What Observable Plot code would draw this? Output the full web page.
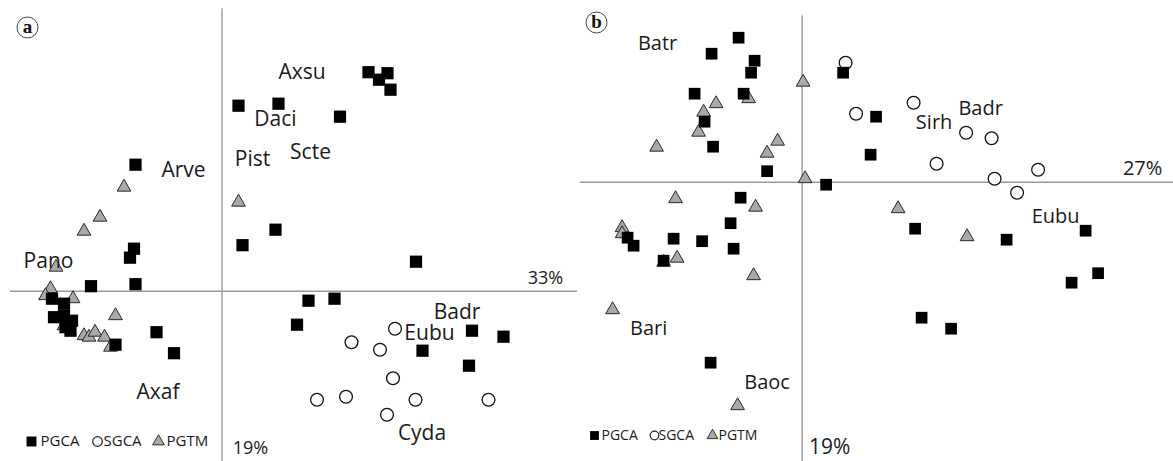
<!DOCTYPE html>
<html>
<head>
<meta charset="utf-8">
<script src="https://cdn.jsdelivr.net/npm/d3@7"></script>
<script src="https://cdn.jsdelivr.net/npm/@observablehq/plot@0.6"></script>
<style>
  body { margin: 0; background: #fff; }
  #wrap { display: flex; width: 1173px; height: 461px; overflow: hidden; }
  #wrap svg { display: block; }
</style>
</head>
<body>
<div id="wrap"></div>
<script>
// ---------- Panel (a): PCA scores [PC1, PC2] ----------
const pgcaA = [
  [2.93,4.38],[3.31,4.36],[3.14,4.23],[3.37,4.03],[0.33,3.71],[1.13,3.75],[2.36,3.49],
  [-1.73,2.53],[1.07,1.23],[0.41,0.92],[-1.76,0.85],[-1.84,0.67],[3.88,0.59],
  [-2.62,0.10],[-1.73,0.14],[1.73,-0.19],[2.25,-0.15],[1.50,-0.67],[5.00,-0.79],
  [5.63,-0.91],[4.01,-1.19],[4.94,-1.49],[-1.31,-0.82],[-0.96,-1.24],[-2.13,-1.07],
  [-3.40,-0.15],[-3.16,-0.25],[-3.36,-0.52],[-3.16,-0.49],[-3.00,-0.59],[-3.03,-0.79],[-3.13,-0.72]
];
const sgcaA = [
  [3.46,-0.75],[2.59,-1.02],[3.16,-1.17],[3.42,-1.74],[1.90,-2.17],[2.48,-2.11],
  [3.87,-2.17],[5.33,-2.17],[3.30,-2.47]
];
const pgtmA = [
  [-1.96,2.08],[-2.44,1.48],[-2.76,1.20],[-3.32,0.48],[0.33,1.78],[-3.43,0.05],
  [-3.53,-0.09],[-2.98,-0.15],[-2.13,-0.49],[-3.16,-0.69],[-2.76,-0.89],[-2.66,-0.92],
  [-2.54,-0.82],[-2.35,-0.92],[-2.23,-1.12]
];
const labelsA = [
  ["Axsu",1.60,4.37],["Daci",1.07,3.43],["Pist",0.61,2.63],["Scte",1.77,2.77],
  ["Arve",-0.77,2.41],["Pano",-3.47,0.59],["Axaf",-1.28,-2.03],["Badr",4.70,-0.43],
  ["Eubu",4.15,-0.85],["Cyda",4.00,-2.85]
];
const axisLabelsA = [["33%",6.47,0.25,18],["19%",0.57,-3.14,18]];

// ---------- Panel (b): PCA scores [PC1, PC2] ----------
const pgcaB = [
  [-1.27,2.89],[-1.81,2.57],[-0.95,2.43],[-1.02,2.19],[-2.15,1.77],[-1.17,1.77],
  [-1.95,1.21],[-1.78,0.71],[-0.70,0.22],[0.82,2.19],[1.48,1.31],[1.37,0.55],
  [0.48,-0.05],[-1.23,-0.31],[-1.43,-0.82],[-2.57,-1.13],[-2.00,-1.18],[-1.37,-1.33],
  [-3.49,-1.11],[-3.37,-1.27],[-2.77,-1.57],[2.26,-0.93],[4.09,-1.15],[5.67,-0.97],
  [5.92,-1.82],[5.39,-2.01],[2.39,-2.71],[2.98,-2.93],[-1.83,-3.61]
];
const sgcaB = [
  [0.87,2.39],[1.08,1.37],[2.23,1.59],[3.28,0.99],[3.79,0.88],[2.69,0.37],
  [3.85,0.07],[4.30,-0.21],[4.72,0.25]
];
const pgtmB = [
  [0.02,2.00],[-1.07,1.67],[-1.72,1.57],[-1.97,1.40],[-2.07,1.00],[-2.91,0.70],
  [-0.49,0.82],[-0.70,0.58],[0.06,0.07],[-2.53,-0.33],[-0.93,-0.50],[-3.60,-0.91],
  [-3.60,-1.03],[-2.50,-1.52],[-2.77,-1.60],[-0.97,-1.87],[-3.79,-2.55],[1.92,-0.53],
  [3.30,-1.09],[-1.29,-4.47]
];
const labelsB = [
  ["Batr",-2.89,2.77],["Sirh",2.64,1.20],["Badr",3.57,1.47],["Eubu",5.07,-0.68],
  ["Bari",-3.07,-2.93],["Baoc",-0.70,-4.00]
];
const axisLabelsB = [["27%",6.81,0.27,20],["19%",0.55,-5.30,21]];

// Legend entries
const legendItems = [
  {name: "PGCA", symbol: "square"},
  {name: "SGCA", symbol: "circle"},
  {name: "PGTM", symbol: "triangle"}
];

const FONT = "Open Sans, Noto Sans, sans-serif";
const AXIS_COLOR = "#9a9a9a";
const TRI_FILL = "#a9a9a9";

function panel(cfg) {
  const px = d => d[0], py = d => d[1];
  const legendMarks = legendItems.flatMap((item, i) => {
    const sym = item.symbol;
    return [
      Plot.dot([item], {
        frameAnchor: "bottom-left", dx: cfg.legend.sym[i], dy: cfg.legend.dy,
        symbol: sym,
        r: sym === "square" ? cfg.legend.rs : sym === "circle" ? cfg.legend.rc : cfg.legend.rt,
        fill: sym === "square" ? "black" : sym === "circle" ? "white" : TRI_FILL,
        stroke: sym === "square" ? "none" : "#222",
        strokeWidth: sym === "circle" ? 1.2 : 0.9
      }),
      Plot.text([item], {
        frameAnchor: "bottom-left", dx: cfg.legend.txt[i], dy: cfg.legend.dy,
        text: "name", textAnchor: "start", lineAnchor: "middle", fontSize: cfg.legend.fs,
        fontFamily: FONT, fill: "#1a1a1a"
      })
    ];
  });
  return Plot.plot({
    width: cfg.width,
    height: 461,
    margin: 0,
    style: {background: "white", overflow: "visible"},
    x: {domain: cfg.xDomain, axis: null},
    y: {domain: cfg.yDomain, axis: null},
    marks: [
      Plot.ruleX([0], {y1: cfg.axis.yMin, y2: cfg.axis.yMax, stroke: AXIS_COLOR, strokeWidth: 1.4}),
      Plot.ruleY([0], {x1: cfg.axis.xMin, x2: cfg.axis.xMax, stroke: AXIS_COLOR, strokeWidth: 1.4}),
      Plot.dot(cfg.sgca, {x: px, y: py, symbol: "circle", r: 6.4, fill: "white", stroke: "#111", strokeWidth: 1.3}),
      Plot.dot(cfg.pgtm, {x: px, y: py, symbol: "triangle", r: 5.1, fill: TRI_FILL, stroke: "#2a2a2a", strokeWidth: 1}),
      Plot.dot(cfg.pgca, {x: px, y: py, symbol: "square", r: cfg.rSquare, fill: "black"}),
      Plot.text(cfg.labels, {x: d => d[1], y: d => d[2], text: d => d[0], fontSize: cfg.labelSize, fontFamily: FONT, fill: "#1a1a1a"}),
      Plot.text(cfg.axisLabels, {x: d => d[1], y: d => d[2], text: d => d[0], fontSize: d => d[3], fontFamily: FONT, fill: "#1a1a1a"}),
      Plot.dot([cfg.tag], {frameAnchor: "top-left", dx: cfg.tagPos[0], dy: cfg.tagPos[1], r: 10.5, fill: "white", stroke: "#444", strokeWidth: 1}),
      Plot.text([cfg.tag], {frameAnchor: "top-left", dx: cfg.tagPos[0], dy: cfg.tagPos[1] - 1, textAnchor: "middle", lineAnchor: "middle", text: d => d, fontSize: 19, fontWeight: "bold", fontFamily: "Liberation Serif, DejaVu Serif, serif", fill: "#111"}),
      ...legendMarks
    ]
  });
}

const wrap = document.getElementById("wrap");
wrap.append(panel({
  width: 580,
  xDomain: [-4.43, 7.17], yDomain: [-3.406, 5.814],
  axis: {xMin: -4.23, xMax: 7.11, yMin: -3.406, yMax: 5.65},
  pgca: pgcaA, sgca: sgcaA, pgtm: pgtmA,
  labels: labelsA, axisLabels: axisLabelsA, labelSize: 21, rSquare: 6.9,
  tag: "a", tagPos: [27, 27],
  legend: {dy: -20, sym: [31, 97, 158], txt: [40, 103, 166], fs: 15, rs: 5.6, rc: 4.8, rt: 4.4}
}));
wrap.append(panel({
  width: 593,
  xDomain: [-4.432, 7.428], yDomain: [-5.586, 3.634],
  axis: {xMin: -4.432, xMax: 7.428, yMin: -5.586, yMax: 3.33},
  pgca: pgcaB, sgca: sgcaB, pgtm: pgtmB,
  labels: labelsB, axisLabels: axisLabelsB, labelSize: 20, rSquare: 6.6,
  tag: "b", tagPos: [16, 22],
  legend: {dy: -26, sym: [14, 74, 132], txt: [21, 78, 138], fs: 14, rs: 5.0, rc: 4.3, rt: 4.0}
}));
</script>
</body>
</html>
